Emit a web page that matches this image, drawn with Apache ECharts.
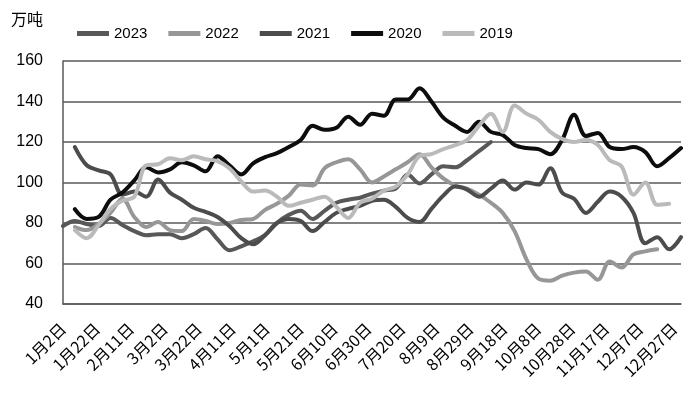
<!DOCTYPE html>
<html><head><meta charset="utf-8">
<script src="https://cdn.jsdelivr.net/npm/echarts@6/dist/echarts.min.js"></script>
<style>html,body{margin:0;padding:0;background:#fff}#c{width:688px;height:393px}</style>
</head><body><div id="c"></div>
<script>
const tickLabels = ['1月2日','1月22日','2月11日','3月2日','3月22日','4月11日','5月1日','5月21日','6月10日','6月30日','7月20日','8月9日','8月29日','9月18日','10月8日','10月28日','11月17日','12月7日','12月27日'];
// weekly observation dates, as days after 1月2日
const dayOffsets = [0,7,14,21,28,35,42,49,56,63,70,77,84,91,98,105,112,119,126,133,140,147,154,161,168,175,182,189,196,203,210,217,224,231,238,245,252,259,266,273,280,287,294,301,308,315,322,329,336,343,350,357,364];
const seriesNames = ['2023','2022','2021','2020','2019'];
const seriesStart = [0,1,1,1,1];
const v2023 = [78.5,81,79.5,78.5,82.5,79,76,74,74.5,74.5,72.5,74.5,77.5,72,66.5,68.5,71,74,80,84,86,82,86,90,91.5,92.5,94.5,96,97,104,99.5,104,108,107.5,111,115.5,120];
const v2022 = [78,76.5,79.5,85,92,83,78,80.5,76.5,76,82,81,79.5,80,81.5,82,86.5,89.5,93.5,99,98.5,107,110,111.5,106.5,100,103,106.5,110,114,107.5,102,98.5,97,94,90,85,76,62,52.5,51.5,54,55.5,56,52,61,58,64.5,66,67];
const v2021 = [117.5,108.5,106,104,94,95.5,93,101.5,95,91.5,87.5,85.5,83,78.5,72.5,69.5,74,80,82,81,76,80.5,85,87,88.5,91,91.5,88,82.5,80.5,87,93.5,98,96.5,93,97,101,96.5,100,99,107,95,92,85,90.5,95.5,93,85,70,73,67,73];
const v2020 = [86.8,82,83,91.5,95,101,107.5,105,106.5,110,108.5,105.5,113,108.5,104,109.5,112.5,114.5,117.5,121,128,126,127,132.5,128.5,134,133,141,141,146.5,140,132,128,125,130,125,123.5,118.5,117,116.5,114,121,133.5,123,124.5,117.5,116.5,117.5,115,108,112,117];
const v2019 = [76.5,72.5,79,87,91,93,108.5,109,112,111,113,111.5,110.5,107,100.5,95.5,96,93,88.5,90,91.5,93,88,82.5,90,92,96,98,104,113,114,116.5,118.5,121,128,134,125,138,134,131,125,121.5,120,121,118.5,111,108,94,100,89,89.5];
const seriesValues = [v2023,v2022,v2021,v2020,v2019];
const colors = ['#585858','#979797','#4c4c4c','#0d0d0d','#bababa'];

const chart = echarts.init(document.getElementById('c'), null, {renderer:'canvas'});
const series = seriesNames.map((n, si) => ({
  name: n, type: 'line', smooth: 0.35, symbol: 'none',
  lineStyle: {width: 4, color: colors[si], cap: 'round', join: 'round'},
  itemStyle: {color: colors[si]},
  data: seriesValues[si].map((v, i) => [dayOffsets[i + seriesStart[si]], v])
}));
chart.setOption({
  animation: false,
  backgroundColor: '#fff',
  title: {text: '万吨', left: 6, top: 6, textStyle: {fontSize: 16, fontWeight: 'normal', color: '#000', fontFamily: 'Noto Sans CJK SC'}},
  legend: {
    data: seriesNames, left: 72, top: 21, icon: 'rect', itemWidth: 32, itemHeight: 5, itemGap: 21,
    textStyle: {fontSize: 15, color: '#000', fontFamily: 'Liberation Sans'}
  },
  grid: {left: 63, right: 7, top: 61, bottom: 89, containLabel: false},
  xAxis: {
    type: 'value', min: 0, max: 364, interval: 20,
    axisLine: {show: true, lineStyle: {color: '#595959', width: 1.5}},
    axisTick: {show: false}, splitLine: {show: false},
    axisLabel: {rotate: 45, margin: 22, fontSize: 16, color: '#000', fontFamily: 'Noto Sans CJK SC',
      formatter: v => (v % 20 === 0 && v / 20 < tickLabels.length) ? tickLabels[v / 20] : ''}
  },
  yAxis: {
    type: 'value', min: 40, max: 160, interval: 20,
    axisLine: {show: true, lineStyle: {color: '#595959', width: 1.5}},
    axisTick: {show: false},
    splitLine: {show: true, lineStyle: {color: '#595959', width: 1.5}},
    axisLabel: {margin: 20, fontSize: 16, color: '#000', fontFamily: 'Liberation Sans'}
  },
  series: series
});
</script></body></html>
